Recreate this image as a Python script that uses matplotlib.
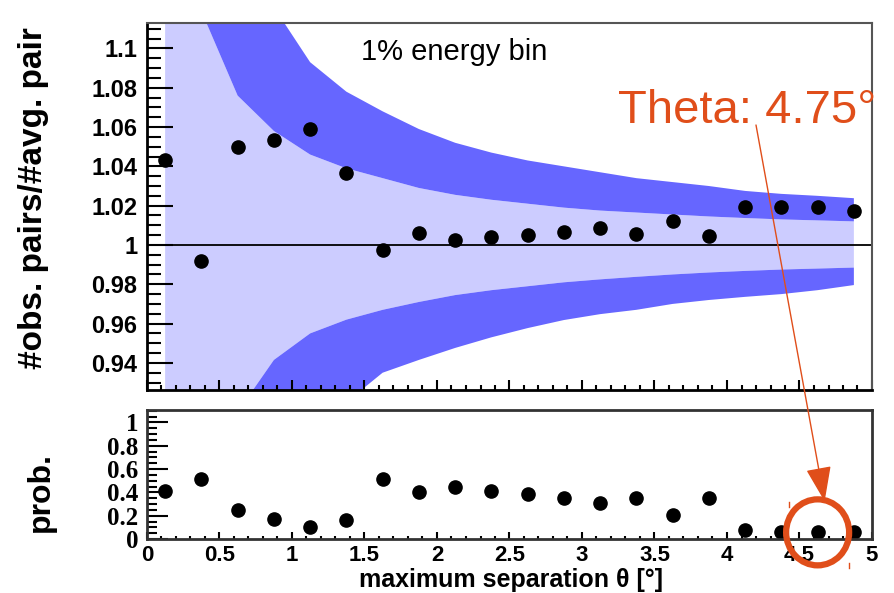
import matplotlib
matplotlib.use("Agg")
import matplotlib.pyplot as plt
import numpy as np
from matplotlib.patches import Ellipse
from matplotlib.ticker import MultipleLocator, FuncFormatter

plt.rcParams['font.family'] = ['Liberation Sans', 'DejaVu Sans']

# bin centres of the maximum separation (deg)
theta = [0.125, 0.375, 0.625, 0.875, 1.125, 1.375, 1.625, 1.875, 2.125, 2.375,
         2.625, 2.875, 3.125, 3.375, 3.625, 3.875, 4.125, 4.375, 4.625, 4.875]

# observed pairs / average pairs
ratio = [1.043, 0.992, 1.050, 1.0534, 1.0589, 1.0368, 0.9975, 1.006, 1.0025, 1.0042,
         1.0049, 1.0068, 1.0085, 1.0054, 1.0122, 1.0047, 1.0195, 1.0195, 1.0192, 1.0175]

# inner band (light) and outer band (dark) edges
inner_hi = [1.20, 1.119, 1.076, 1.058, 1.046, 1.039, 1.034, 1.029, 1.0255, 1.023,
            1.021, 1.019, 1.0175, 1.0165, 1.0155, 1.0145, 1.0137, 1.013, 1.0125, 1.012]
outer_hi = [1.60, 1.35, 1.19, 1.121, 1.093, 1.078, 1.068, 1.059, 1.052, 1.047,
            1.043, 1.040, 1.037, 1.034, 1.032, 1.030, 1.0275, 1.026, 1.025, 1.0238]
inner_lo = [0.75, 0.86, 0.915, 0.9415, 0.955, 0.962, 0.967, 0.971, 0.9745, 0.977,
            0.979, 0.981, 0.9825, 0.9838, 0.985, 0.986, 0.9868, 0.9875, 0.988, 0.9885]
outer_lo = [0.50, 0.70, 0.80, 0.86, 0.895, 0.92, 0.935, 0.9415, 0.9476, 0.953,
            0.9577, 0.9618, 0.9648, 0.967, 0.970, 0.972, 0.9736, 0.975, 0.977, 0.9796]

# probability per bin
prob = [0.414, 0.514, 0.246, 0.171, 0.100, 0.166, 0.517, 0.403, 0.443, 0.409,
        0.388, 0.349, 0.305, 0.349, 0.203, 0.349, 0.074, 0.057, 0.057, 0.057]

top_yticks = [0.94, 0.96, 0.98, 1.0, 1.02, 1.04, 1.06, 1.08, 1.1]
bot_yticks = [0, 0.2, 0.4, 0.6, 0.8, 1.0]
xticks = [0, 0.5, 1, 1.5, 2, 2.5, 3, 3.5, 4, 4.5, 5]

highlight = 18  # index of the circled bin
note = "Theta: 4.75°"

W, H = 895, 593
fig = plt.figure(figsize=(W / 100, H / 100), dpi=100)
light = '#ccccff'
dark = '#6666ff'
orange = '#e04e1a'

fmt = FuncFormatter(lambda v, p: f'{round(v, 3):g}')

# ---- top panel
ax = fig.add_axes([147 / W, 1 - 390 / H, 725 / W, 367.3 / H])
ax.fill_between(theta, inner_lo, inner_hi, color=light, lw=0, zorder=1)
ax.fill_between(theta, inner_hi, outer_hi, color=dark, lw=0, zorder=1)
ax.fill_between(theta, outer_lo, inner_lo, color=dark, lw=0, zorder=1)
ax.axhline(1.0, color='black', lw=1.3, zorder=2)
ax.plot(theta, ratio, 'o', color='black', ms=9.5, zorder=3)
ax.set_xlim(0, 5)
ax.set_ylim(0.9262, 1.1131)
ax.set_yticks(top_yticks)
ax.yaxis.set_major_formatter(fmt)
ax.yaxis.set_minor_locator(MultipleLocator(0.005))
ax.xaxis.set_major_locator(MultipleLocator(0.5))
ax.xaxis.set_minor_locator(MultipleLocator(0.1))
ax.tick_params(axis='y', which='major', direction='in', length=19, width=1.5,
               pad=7, labelsize=17)
ax.tick_params(axis='y', which='minor', direction='in', length=10, width=1.5)
ax.tick_params(axis='x', which='major', direction='in', length=7, width=1.5,
               labelbottom=False)
ax.tick_params(axis='x', which='minor', direction='in', length=3.5, width=1.5)
for lab in ax.get_yticklabels():
    lab.set_fontweight('bold')
for s in ['left', 'bottom']:
    ax.spines[s].set_linewidth(2)
    ax.spines[s].set_color('black')
for s in ['top', 'right']:
    ax.spines[s].set_linewidth(1.5)
    ax.spines[s].set_color('#555555')
ax.text(2.12, 1.098, '1% energy bin', fontsize=21, ha='center', va='center')

# ---- bottom panel
ax2 = fig.add_axes([147 / W, 1 - 539 / H, 725 / W, 128.7 / H])
ax2.plot(theta, prob, 'o', color='black', ms=9.5)
ax2.set_xlim(0, 5)
ax2.set_ylim(0, 1.104)
ax2.set_xticks(xticks)
ax2.set_yticks(bot_yticks)
ax2.xaxis.set_major_formatter(fmt)
ax2.yaxis.set_major_formatter(fmt)
ax2.xaxis.set_minor_locator(MultipleLocator(0.1))
ax2.yaxis.set_minor_locator(MultipleLocator(0.05))
ax2.tick_params(axis='y', which='major', direction='in', length=15, width=1.5, pad=6)
ax2.tick_params(axis='y', which='minor', direction='in', length=7, width=1.5)
ax2.tick_params(axis='x', which='major', direction='in', length=5, width=1.5,
                pad=4, labelsize=16)
ax2.tick_params(axis='x', which='minor', direction='in', length=2.5, width=1.5)
for lab in ax2.get_xticklabels():
    lab.set_fontweight('bold')
for lab in ax2.get_yticklabels():
    lab.set_fontweight('bold')
    lab.set_family('Liberation Serif')
    lab.set_fontsize(18)
for s in ax2.spines.values():
    s.set_linewidth(2)
    s.set_color('#333333')

# axis titles
fig.text(34 / W, 1 - 198 / H, '#obs. pairs/#avg. pair', rotation=90,
         ha='center', va='center', fontsize=24, fontweight='bold')
fig.text(41 / W, 1 - 492 / H, 'prob.', rotation=90,
         ha='center', va='center', fontsize=23, fontweight='bold')
fig.text(511 / W, 1 - 592 / H, 'maximum separation θ [°]',
         ha='center', va='bottom', fontsize=18, fontweight='bold')

# ---- orange annotation overlay in pixel coordinates
ov = fig.add_axes([0, 0, 1, 1], facecolor='none')
ov.set_xlim(0, W)
ov.set_ylim(H, 0)
ov.axis('off')
cx, cy = ax2.transData.transform((theta[highlight], prob[highlight]))
cy = H - cy
ov.add_patch(Ellipse((cx, cy), 63, 66, fill=False, ec=orange, lw=4.5))
ov.annotate('', xy=(cx + 7, cy - 31), xytext=(756, 125),
            arrowprops=dict(arrowstyle='-|>,head_length=2.2,head_width=0.8',
                            color=orange, lw=1, shrinkA=0, shrinkB=0))
ov.plot([cx - 29, cx - 29], [cy - 30, cy - 25], color=orange, lw=1)
ov.plot([cx + 31, cx + 31], [cy + 31, cy + 36], color=orange, lw=1)
ov.text(618, 123, note, color=orange, fontsize=34, ha='left', va='baseline')

fig.savefig('out.png', dpi=100)
